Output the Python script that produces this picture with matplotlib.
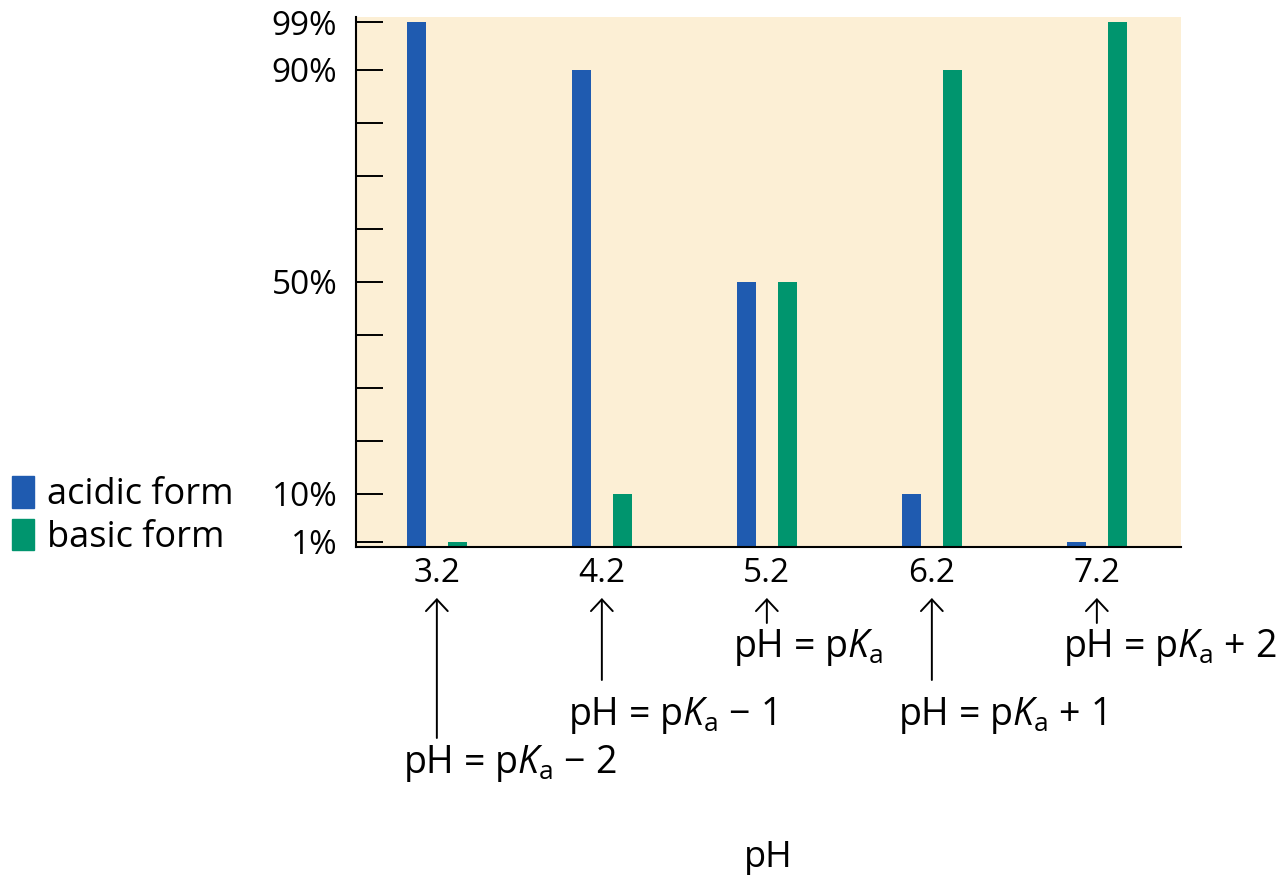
import numpy as np
import matplotlib.pyplot as plt
from matplotlib.patches import Patch
from matplotlib.transforms import blended_transform_factory

plt.rcParams['font.family'] = ['Open Sans', 'DejaVu Sans']
plt.rcParams['mathtext.fontset'] = 'custom'
plt.rcParams['mathtext.rm'] = 'Open Sans'
plt.rcParams['mathtext.it'] = 'Open Sans:italic'

# data
ph_labels = ['3.2', '4.2', '5.2', '6.2', '7.2']
acidic = [99, 90, 50, 10, 1]
basic = [1, 10, 50, 90, 99]
major_ticks = [1, 10, 50, 90, 99]
major_labels = ['1%', '10%', '50%', '90%', '99%']
minor_ticks = [20, 30, 40, 60, 70, 80]
notes = [r'pH = p$K_\mathregular{a}$ − 2',
         r'pH = p$K_\mathregular{a}$ − 1',
         r'pH = p$K_\mathregular{a}$',
         r'pH = p$K_\mathregular{a}$ + 1',
         r'pH = p$K_\mathregular{a}$ + 2']

blue = '#1f5bb0'
green = '#00956e'
cream = '#fcefd5'

W, H = 1282, 875
fig = plt.figure(figsize=(W / 100, H / 100), dpi=100)
ax = fig.add_axes([356 / W, 1 - 547 / H, 825 / W, 530 / H])
ax.set_facecolor(cream)

x = np.arange(len(ph_labels))
bw = 0.115
off = 0.124
ax.bar(x - off, acidic, bw, color=blue)
ax.bar(x + off, basic, bw, color=green)

ax.set_xlim(-0.49, 4.51)
ax.set_ylim(0, 100)
for s in ['top', 'right']:
    ax.spines[s].set_visible(False)
for s in ['left', 'bottom']:
    ax.spines[s].set_linewidth(1.5)

ax.set_yticks(major_ticks)
ax.set_yticklabels(major_labels, fontsize=24)
ax.set_yticks(minor_ticks, minor=True)
ax.tick_params(axis='y', which='both', direction='in', length=19.5, width=1.4, pad=13.5)
ax.set_xticks(x)
ax.set_xticklabels(ph_labels, fontsize=24)
ax.tick_params(axis='x', length=0, pad=7)

# arrows and notes under the tick labels
trans = blended_transform_factory(ax.transData, fig.transFigure)
tails = [738, 680, 623, 680, 623]
bases = [773, 725, 657, 725, 657]
for xi, note, tail, base in zip(x, notes, tails, bases):
    ax.annotate('', xy=(xi, 1 - 598 / H), xytext=(xi, 1 - tail / H),
                xycoords=trans, textcoords=trans,
                arrowprops=dict(arrowstyle='->, head_length=0.3, head_width=0.28',
                                lw=1.4, color='black',
                                shrinkA=0, shrinkB=0, mutation_scale=28))
    ax.text(xi - 0.203, 1 - base / H, note, transform=trans, fontsize=27,
            ha='left', va='baseline')

ax.set_xlabel('pH', fontsize=26)
ax.xaxis.set_label_coords(0.5, 1 - 867 / H,
                          transform=blended_transform_factory(ax.transAxes, fig.transFigure))
ax.xaxis.label.set_verticalalignment('baseline')

handles = [Patch(color=blue), Patch(color=green)]
fig.legend(handles, ['acidic form', 'basic form'], loc='upper left',
           bbox_to_anchor=(12 / W, 1 - 476 / H), frameon=False, fontsize=26,
           borderpad=0, borderaxespad=0, handlelength=0.61, handleheight=0.97,
           handletextpad=0.36, labelspacing=0.15)

fig.savefig('out.png', dpi=100)
